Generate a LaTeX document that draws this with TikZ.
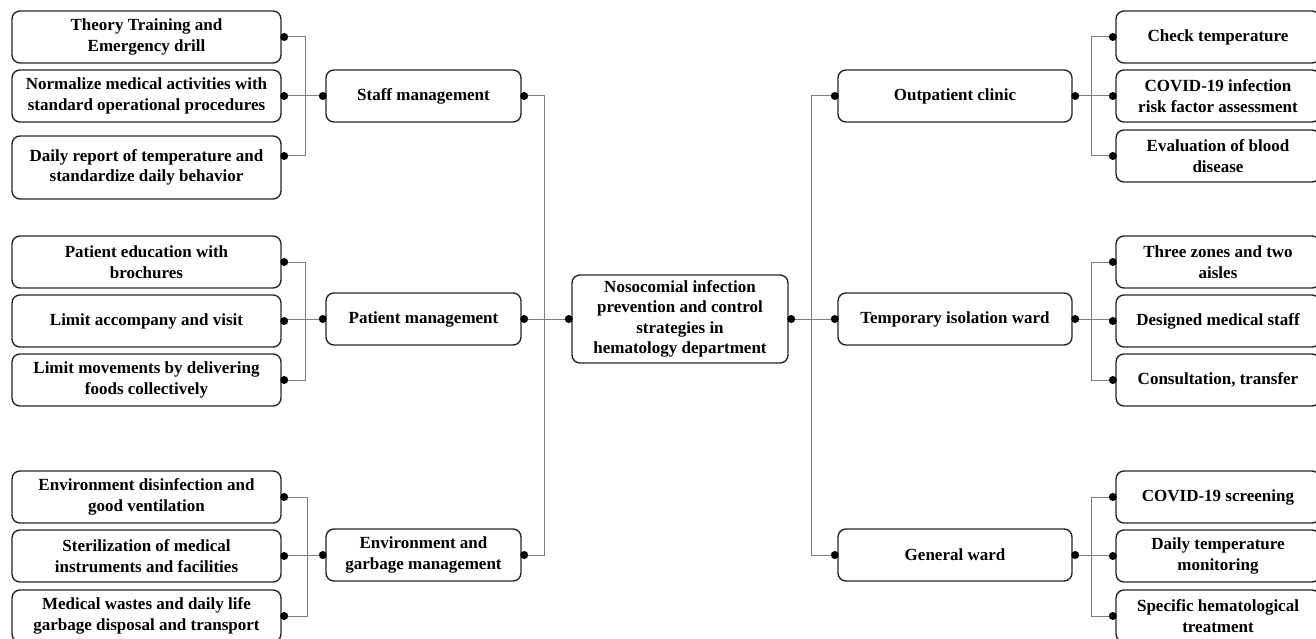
\documentclass[tikz,border=0pt]{standalone}
\usepackage{fontspec}
\setmainfont{Liberation Serif}
\usetikzlibrary{calc}

\definecolor{boxgray}{RGB}{40,40,40}
\definecolor{linegray}{RGB}{125,125,125}

\tikzset{
    box/.style={draw=boxgray, line width=1.4pt, rounded corners=8pt, align=center,
        font=\bfseries\fontsize{17}{20.5}\selectfont, inner sep=0pt},
    leftleaf/.style={box, minimum width=269pt, minimum height=52pt},
    rightleaf/.style={box, minimum width=204pt, minimum height=52pt},
    midleft/.style={box, minimum width=195pt, minimum height=52pt},
    midright/.style={box, minimum width=234pt, minimum height=52pt},
    conn/.style={draw=linegray, line width=1pt},
}

\begin{document}
\begin{tikzpicture}[x=1pt, y=-1pt]

    \useasboundingbox (0,0) rectangle (1316,639);

    % 1. 中心节点
    \node[box, minimum width=216pt, minimum height=88pt] (core) at (680,319)
        {Nosocomial infection\\prevention and control\\strategies in\\hematology department};

    % 2. 左侧二级节点
    \node[midleft] (staff)   at (423.5,96)  {Staff management};
    \node[midleft] (patient) at (423.5,319) {Patient management};
    \node[midleft] (env)     at (423.5,555) {Environment and\\garbage management};

    % 3. 右侧二级节点
    \node[midright] (outp) at (955,96)  {Outpatient clinic};
    \node[midright] (temp) at (955,319) {Temporary isolation ward};
    \node[midright] (gen)  at (955,555) {General ward};

    % 4. 左侧叶节点
    \node[leftleaf] (s1) at (146.5,37) {Theory Training and\\Emergency drill};
    \node[leftleaf] (s2) at (146.5,96) {Normalize medical activities with\\standard operational procedures};
    \node[leftleaf, minimum height=63pt] (s3) at (146.5,167.5) {Daily report of temperature and\\standardize daily behavior};
    \node[leftleaf] (p1) at (146.5,262) {Patient education with\\brochures};
    \node[leftleaf] (p2) at (146.5,321) {Limit accompany and visit};
    \node[leftleaf] (p3) at (146.5,380) {Limit movements by delivering\\foods collectively};
    \node[leftleaf] (e1) at (146.5,497) {Environment disinfection and\\good ventilation};
    \node[leftleaf] (e2) at (146.5,556) {Sterilization of medical\\instruments and facilities};
    \node[leftleaf] (e3) at (146.5,616) {Medical wastes and daily life\\garbage disposal and transport};

    % 5. 右侧叶节点
    \node[rightleaf] (o1) at (1218,37)  {Check temperature};
    \node[rightleaf] (o2) at (1218,96)  {COVID-19 infection\\risk factor assessment};
    \node[rightleaf] (o3) at (1218,156) {Evaluation of blood\\disease};
    \node[rightleaf] (t1) at (1218,262) {Three zones and two\\aisles};
    \node[rightleaf] (t2) at (1218,321) {Designed medical staff};
    \node[rightleaf] (t3) at (1218,380) {Consultation, transfer};
    \node[rightleaf] (g1) at (1218,497) {COVID-19 screening};
    \node[rightleaf] (g2) at (1218,556) {Daily temperature\\monitoring};
    \node[rightleaf] (g3) at (1218,616) {Specific hematological\\treatment};

    % 叶节点连接点 (s3 的点不在中心)
    \coordinate (s3e) at ([yshift=11.5pt]s3.east);

    % 6. 左侧连线
    \draw[conn] (s1.east) -- ++(24,0) |- (s3e);
    \draw[conn] (s2.east) -- (staff.west);
    \draw[conn] (p1.east) -- ++(24,0) |- (p3.east);
    \draw[conn] (p2.east |- patient.west) -- (patient.west);
    \draw[conn] (e1.east) -- ++(26,0) |- (e3.east);
    \draw[conn] (e2.east |- env.west) -- (env.west);
    \draw[conn] (staff.east) -- ++(23,0) |- (env.east);
    \draw[conn] (patient.east) -- (core.west);

    % 7. 右侧连线
    \draw[conn] (outp.west) -- ++(-26,0) |- (gen.west);
    \draw[conn] (core.east) -- (temp.west);
    \draw[conn] (o1.west) -- ++(-24,0) |- (o3.west);
    \draw[conn] (outp.east) -- (o2.west);
    \draw[conn] (t1.west) -- ++(-24,0) |- (t3.west);
    \draw[conn] (temp.east) -- (t2.west |- temp.east);
    \draw[conn] (g1.west) -- ++(-24,0) |- (g3.west);
    \draw[conn] (gen.east) -- (g2.west |- gen.east);

    % 8. 圆点
    \foreach \p in {s1.east, s2.east, s3e, p1.east, p2.east, p3.east, e1.east, e2.east, e3.east,
                    staff.east, patient.east, env.east, core.east, outp.east, temp.east, gen.east}
        \fill ([xshift=2.5pt]\p) circle[radius=4pt];
    \foreach \p in {staff.west, patient.west, env.west, core.west, outp.west, temp.west, gen.west,
                    o1.west, o2.west, o3.west, t1.west, t2.west, t3.west, g1.west, g2.west, g3.west}
        \fill ([xshift=-2.5pt]\p) circle[radius=4pt];

\end{tikzpicture}
\end{document}
